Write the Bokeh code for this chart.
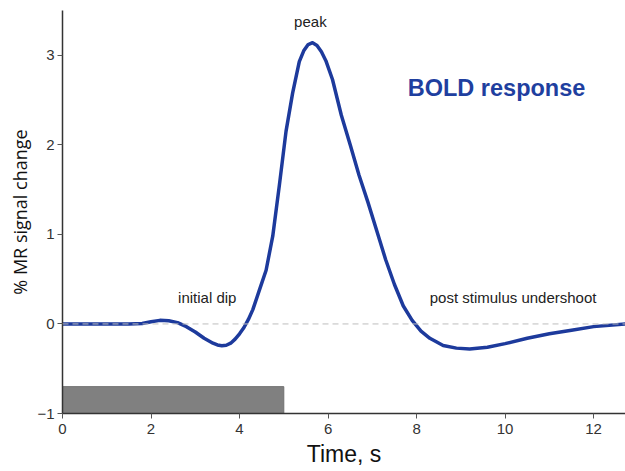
from bokeh.plotting import figure
from bokeh.models import Range1d, FixedTicker, Span
from bokeh.core.properties import value
from bokeh.embed import file_html
from bokeh.resources import INLINE

# Haemodynamic response curve (time in s, % MR signal change)
time_s = [0, 0.5, 1.0, 1.5, 1.8, 2.0, 2.2, 2.4, 2.6, 2.8, 3.0, 3.2, 3.4, 3.5,
          3.6, 3.7, 3.8, 3.9, 4.0, 4.1, 4.2, 4.3, 4.45, 4.6, 4.75, 4.9, 5.05,
          5.2, 5.35, 5.45, 5.55, 5.65, 5.75, 5.85, 5.95, 6.1, 6.3, 6.5, 6.7,
          6.9, 7.1, 7.3, 7.5, 7.7, 7.9, 8.1, 8.3, 8.6, 8.9, 9.2, 9.6, 10.0,
          10.5, 11.0, 11.5, 12.0, 12.72]
signal = [0, 0, 0, 0, 0.005, 0.025, 0.04, 0.035, 0.015, -0.03, -0.09, -0.16,
          -0.215, -0.235, -0.243, -0.238, -0.215, -0.17, -0.11, -0.04, 0.05,
          0.16, 0.38, 0.6, 0.98, 1.55, 2.15, 2.58, 2.93, 3.05, 3.12, 3.14,
          3.11, 3.04, 2.94, 2.73, 2.33, 2.0, 1.66, 1.36, 1.04, 0.72, 0.44,
          0.2, 0.04, -0.08, -0.16, -0.24, -0.27, -0.28, -0.26, -0.22, -0.16,
          -0.11, -0.07, -0.03, 0.0]

# Stimulus block
stim_start, stim_end = 0, 5
stim_bottom, stim_top = -1, -0.7

x_ticks = [0, 2, 4, 6, 8, 10, 12]
y_ticks = [-1, 0, 1, 2, 3]

annotations = ["peak", "initial dip", "post stimulus undershoot"]
annot_x = [5.6, 3.27, 10.18]
annot_y = [3.38, 0.3, 0.3]

blue = "#1d3a9c"
font = "Liberation Sans"

p = figure(width=625, height=471, output_backend="svg", toolbar_location=None,
           x_range=Range1d(0, 12.72), y_range=Range1d(-1, 3.5),
           min_border_left=62, min_border_right=0, min_border_top=10,
           min_border_bottom=58)
p.outline_line_color = None
p.xgrid.visible = False
p.ygrid.visible = False
p.background_fill_color = "white"
p.border_fill_color = "white"

# zero baseline
p.add_layout(Span(location=0, dimension="width", line_color="#bdbdbd",
                  line_width=1, line_dash="6 4"))

# stimulus bar
p.quad(left=[stim_start], right=[stim_end], bottom=[stim_bottom], top=[stim_top],
       fill_color="#808080", line_color="#707070", line_width=1)

# response curve
p.line(time_s, signal, line_color=blue, line_width=3.5, line_join="round",
       line_cap="round")

p.text(annot_x, annot_y, text=annotations, text_font=value(font),
       text_font_size="15px", text_color="#222222", text_align="center",
       text_baseline="middle")

p.text([7.8], [2.63], text=["BOLD response"], text_font=value(font),
       text_font_size="23.5px", text_font_style="bold", text_color="#1f3f9f",
       text_align="left", text_baseline="middle")

for ax in (p.xaxis[0], p.yaxis[0]):
    ax.axis_line_color = "#333333"
    ax.axis_line_width = 1.5
    ax.major_tick_line_color = "#555555"
    ax.major_tick_out = 5
    ax.major_tick_in = 0
    ax.minor_tick_line_color = None
    ax.major_label_text_font = font
    ax.major_label_text_font_size = "15px"
    ax.major_label_text_color = "#333333"
    ax.axis_label_text_font_style = "normal"
    ax.axis_label_text_color = "#111111"

p.xaxis.ticker = FixedTicker(ticks=x_ticks)
p.yaxis.ticker = FixedTicker(ticks=y_ticks)
p.xaxis.axis_label = "Time, s"
p.xaxis.axis_label_text_font = font
p.xaxis.axis_label_text_font_size = "23px"
p.xaxis.axis_label_standoff = 4
p.xaxis.major_label_standoff = 5
p.yaxis.axis_label = "% MR signal change"
p.yaxis.axis_label_text_font = "Open Sans"
p.yaxis.axis_label_text_font_size = "18px"
p.yaxis.axis_label_standoff = 2
p.yaxis.major_label_standoff = 3

open("out.html", "w").write(file_html(p, INLINE))
